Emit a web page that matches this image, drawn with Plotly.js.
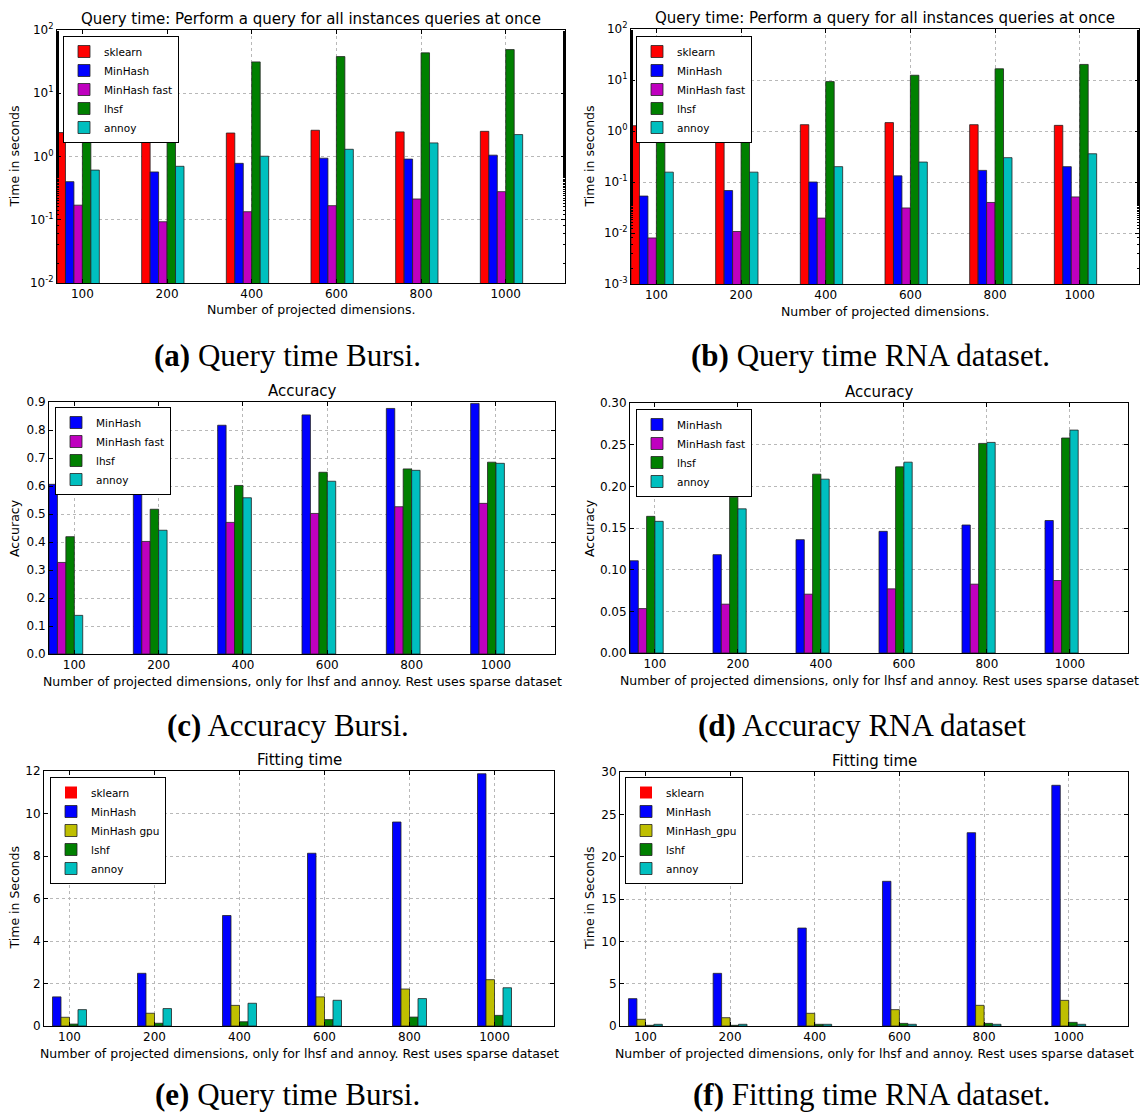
<!DOCTYPE html>
<html><head><meta charset="utf-8">
<script src="https://cdn.plot.ly/plotly-3.0.1.min.js"></script>
<style>html,body{margin:0;padding:0;background:#fff}#chart{width:1141px;height:1113px}</style>
</head><body><div id="chart"></div>
<script>
const categories = ['100','200','400','600','800','1000'];
// (a) Query time Bursi (log scale)
const aSklearn     = [2.39, 2.35, 2.35, 2.6, 2.45, 2.5];
const aMinHash     = [0.40, 0.57, 0.78, 0.94, 0.91, 1.05];
const aMinHashFast = [0.17, 0.093, 0.134, 0.167, 0.213, 0.278];
const aLhsf        = [18, 24.6, 31.3, 38, 43.5, 49];
const aAnnoy       = [0.61, 0.70, 1.01, 1.30, 1.64, 2.22];
// (b) Query time RNA (log scale)
const bSklearn     = [1.27, 1.33, 1.33, 1.46, 1.33, 1.29];
const bMinHash     = [0.053, 0.068, 0.10, 0.132, 0.169, 0.20];
const bMinHashFast = [0.008, 0.0107, 0.0196, 0.031, 0.0397, 0.051];
const bLhsf        = [3.5, 5.85, 9.3, 12.4, 16.6, 20.2];
const bAnnoy       = [0.156, 0.156, 0.20, 0.246, 0.30, 0.358];
// (c) Accuracy Bursi
const cMinHash     = [0.606, 0.74, 0.817, 0.854, 0.877, 0.895];
const cMinHashFast = [0.327, 0.402, 0.47, 0.502, 0.526, 0.538];
const cLhsf        = [0.419, 0.517, 0.602, 0.649, 0.661, 0.685];
const cAnnoy       = [0.138, 0.442, 0.558, 0.617, 0.656, 0.681];
// (d) Accuracy RNA
const dMinHash     = [0.1107, 0.118, 0.136, 0.146, 0.1536, 0.159];
const dMinHashFast = [0.0533, 0.0586, 0.0706, 0.077, 0.0826, 0.087];
const dLhsf        = [0.164, 0.187, 0.2146, 0.2234, 0.2515, 0.258];
const dAnnoy       = [0.158, 0.173, 0.2086, 0.229, 0.2527, 0.2675];
// (e) Fitting time Bursi
const eSklearn     = [0, 0, 0, 0, 0, 0];
const eMinHash     = [1.37, 2.48, 5.2, 8.13, 9.6, 11.87];
const eMinHashGpu  = [0.41, 0.6, 0.97, 1.37, 1.74, 2.18];
const eLshf        = [0.09, 0.13, 0.2, 0.3, 0.42, 0.5];
const eAnnoy       = [0.77, 0.82, 1.07, 1.21, 1.29, 1.8];
// (f) Fitting time RNA
const fSklearn     = [0, 0, 0, 0, 0, 0];
const fMinHash     = [3.23, 6.22, 11.57, 17.09, 22.83, 28.43];
const fMinHashGpu  = [0.79, 0.98, 1.5, 1.93, 2.44, 3.03];
const fLshf        = [0.08, 0.08, 0.2, 0.31, 0.31, 0.43];
const fAnnoy       = [0.2, 0.2, 0.2, 0.2, 0.2, 0.2];

const logTickVals = [-3, -2, -1, 0, 1, 2];
const logTickText = ['10<sup>-3</sup>','10<sup>-2</sup>','10<sup>-1</sup>','10<sup>0</sup>','10<sup>1</sup>','10<sup>2</sup>'];

const COL = {sklearn:'#ff0000', minhash:'#0000ff', fast:'#bf00bf', green:'#008000', annoy:'#00bfbf', gpu:'#bfbf00'};

const W = 1141, H = 1113;
const FONT = 'DejaVu Sans, sans-serif';
const SERIF = 'Liberation Serif, serif';

const panels = [
  {box:[57,565,30,283], log:true, range:[-2,2], title:'Query time: Perform a query for all instances queries at once',
   xlab:'Number of projected dimensions.', ylab:'Time in seconds', caption:'<b>(a)</b> Query time Bursi.', cap:[287,355],
   legend:[63,36],
   series:[['sklearn',aSklearn,COL.sklearn],['MinHash',aMinHash,COL.minhash],['MinHash fast',aMinHashFast,COL.fast],['lhsf',aLhsf,COL.green],['annoy',aAnnoy,COL.annoy]]},
  {box:[631,1139,29,284], log:true, range:[-3,2], title:'Query time: Perform a query for all instances queries at once',
   xlab:'Number of projected dimensions.', ylab:'Time in seconds', caption:'<b>(b)</b> Query time RNA dataset.', cap:[870,355],
   legend:[636,36],
   series:[['sklearn',bSklearn,COL.sklearn],['MinHash',bMinHash,COL.minhash],['MinHash fast',bMinHashFast,COL.fast],['lhsf',bLhsf,COL.green],['annoy',bAnnoy,COL.annoy]]},
  {box:[49,555,402,654], log:false, range:[0,0.9], dtick:0.1, fmt:'.1f', title:'Accuracy',
   xlab:'Number of projected dimensions, only for lhsf and annoy. Rest uses sparse dataset', ylab:'Accuracy', caption:'<b>(c)</b> Accuracy Bursi.', cap:[288,725],
   legend:[55,407],
   series:[['MinHash',cMinHash,COL.minhash],['MinHash fast',cMinHashFast,COL.fast],['lhsf',cLhsf,COL.green],['annoy',cAnnoy,COL.annoy]]},
  {box:[630,1128,403,653], log:false, range:[0,0.3], dtick:0.05, fmt:'.2f', title:'Accuracy',
   xlab:'Number of projected dimensions, only for lhsf and annoy. Rest uses sparse dataset', ylab:'Accuracy', caption:'<b>(d)</b> Accuracy RNA dataset', cap:[862,725],
   legend:[636,409],
   series:[['MinHash',dMinHash,COL.minhash],['MinHash fast',dMinHashFast,COL.fast],['lhsf',dLhsf,COL.green],['annoy',dAnnoy,COL.annoy]]},
  {box:[44,554,771,1026], log:false, range:[0,12], dtick:2, fmt:'d', title:'Fitting time',
   xlab:'Number of projected dimensions, only for lhsf and annoy. Rest uses sparse dataset', ylab:'Time in Seconds', caption:'<b>(e)</b> Query time Bursi.', cap:[287,1094],
   legend:[50,777],
   series:[['sklearn',eSklearn,COL.sklearn],['MinHash',eMinHash,COL.minhash],['MinHash gpu',eMinHashGpu,COL.gpu],['lshf',eLshf,COL.green],['annoy',eAnnoy,COL.annoy]]},
  {box:[620,1128,772,1026], log:false, range:[0,30], dtick:5, fmt:'d', title:'Fitting time',
   xlab:'Number of projected dimensions, only for lhsf and annoy. Rest uses sparse dataset', ylab:'Time in Seconds', caption:'<b>(f)</b> Fitting time RNA dataset.', cap:[871,1094],
   legend:[625,777],
   series:[['sklearn',fSklearn,COL.sklearn],['MinHash',fMinHash,COL.minhash],['MinHash_gpu',fMinHashGpu,COL.gpu],['lshf',fLshf,COL.green],['annoy',fAnnoy,COL.annoy]]}
];

const BARW = 0.1;
const data = [];
const layout = {
  width: W, height: H, margin:{l:0,r:0,t:0,b:0},
  paper_bgcolor:'#fff', plot_bgcolor:'#fff',
  barmode:'overlay', showlegend:true,
  font:{family:FONT, color:'#000', size:12},
  annotations:[]
};

panels.forEach((p, pi) => {
  const n = pi + 1;
  const xa = n === 1 ? 'x' : 'x' + n;
  const ya = n === 1 ? 'y' : 'y' + n;
  const lg = n === 1 ? 'legend' : 'legend' + n;
  const [x0, x1, y0, y1] = p.box;
  const xd = [x0 / W, x1 / W], yd = [1 - y1 / H, 1 - y0 / H];
  const tickPos = categories.map((c, i) => i + 0.3);

  p.series.forEach((s, k) => {
    const allZero = s[1].every(v => v === 0);
    data.push({
      type:'bar', name:s[0], x: categories.map((c, i) => i + BARW/2 + k*BARW), y: s[1],
      width: BARW, xaxis: xa, yaxis: ya, legend: lg,
      marker:{color:s[2], line:{color:'#222', width: allZero ? 0 : 0.8}},
      hoverinfo:'y+name'
    });
  });

  const axCommon = {showline:true, linecolor:'#000', linewidth:1, mirror:'ticks', ticks:'inside', ticklen:4,
    tickcolor:'#000', showgrid:true, gridcolor:'#b8b8b8', griddash:'dot', gridwidth:1, zeroline:false,
    tickfont:{family:FONT, size:12, color:'#000'}, fixedrange:true};

  layout[n === 1 ? 'xaxis' : 'xaxis' + n] = Object.assign({}, axCommon, {
    domain: xd, anchor: ya, range:[0, 6], tickmode:'array', tickvals: tickPos, ticktext: categories
  });
  const yax = Object.assign({}, axCommon, {domain: yd, anchor: xa});
  if (p.log) {
    Object.assign(yax, {type:'log', range:p.range, tickmode:'array',
      tickvals: logTickVals.map(v => Math.pow(10, v)), ticktext: logTickText,
      minor:{ticks:'inside', ticklen:2, tickcolor:'#000', showgrid:false}});
  } else {
    Object.assign(yax, {range:p.range, dtick:p.dtick, tick0:0, tickformat:p.fmt});
  }
  layout[n === 1 ? 'yaxis' : 'yaxis' + n] = yax;

  layout[lg] = {x: p.legend[0] / W, y: 1 - p.legend[1] / H, xanchor:'left', yanchor:'top',
    bgcolor:'#fff', bordercolor:'#000', borderwidth:1, font:{family:FONT, size:10.5, color:'#000'},
    tracegroupgap:0, itemwidth:30, itemclick:false, itemdoubleclick:false};

  const cx = (x0 + x1) / 2, cy = (y0 + y1) / 2;
  const ann = (text, x, y, size, extra) => layout.annotations.push(Object.assign({
    text, x: x / W, y: 1 - y / H, xref:'paper', yref:'paper', showarrow:false,
    xanchor:'center', yanchor:'middle', font:{family:FONT, size, color:'#000'}
  }, extra || {}));
  ann(p.title, cx, y0 - 11, 15);
  ann(p.xlab, cx, y1 + 27, 12.5);
  ann(p.ylab, pi % 2 === 0 ? 14 : 589, cy, 12.5, {textangle:-90});
  ann(p.caption, p.cap[0], p.cap[1], 31, {font:{family:SERIF, size:31, color:'#000'}});
});

Plotly.newPlot('chart', data, layout, {displayModeBar:false, staticPlot:true});
</script>
</body></html>
